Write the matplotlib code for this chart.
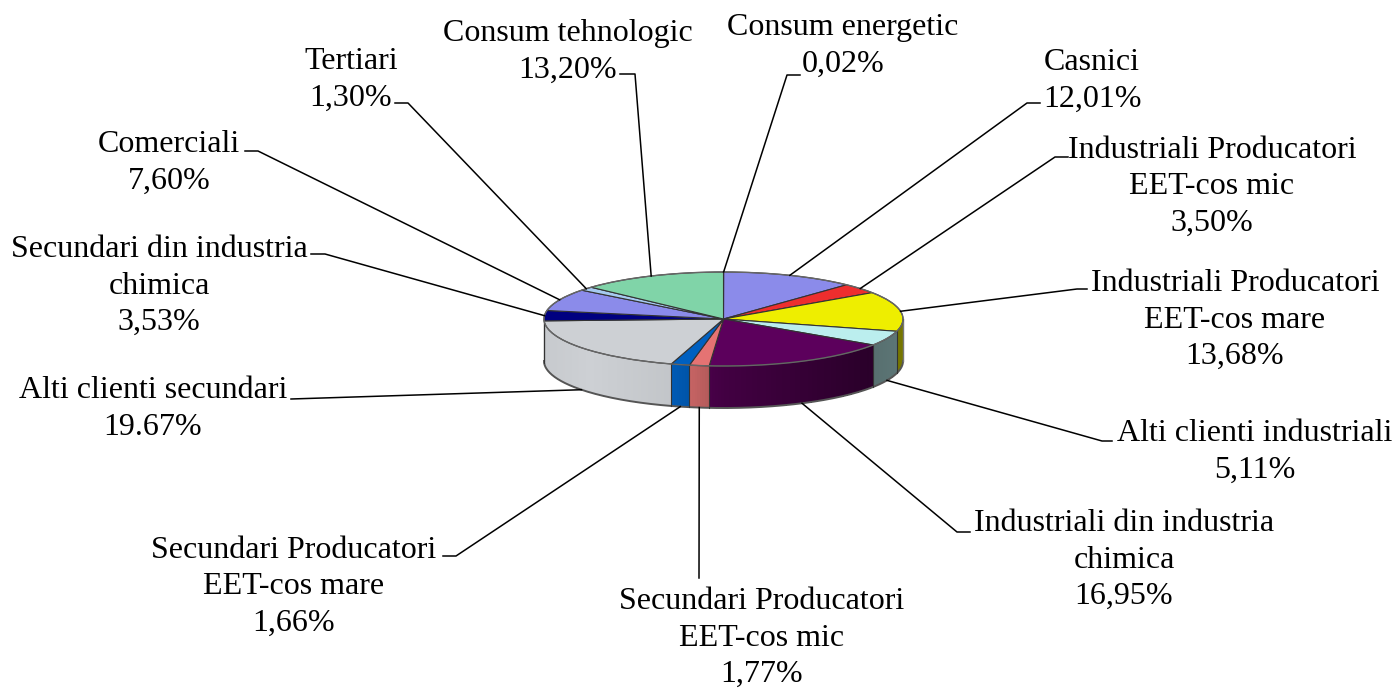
import numpy as np
import matplotlib
matplotlib.use("Agg")
import matplotlib.pyplot as plt
from matplotlib.collections import PolyCollection
from matplotlib.colors import to_rgb
from matplotlib.patches import Wedge
from matplotlib.transforms import Affine2D

# data, clockwise from the top of the pie
categories = ["Consum energetic", "Casnici", "Industriali Producatori\nEET-cos mic",
              "Industriali Producatori\nEET-cos mare", "Alti clienti industriali",
              "Industriali din industria\nchimica", "Secundari Producatori\nEET-cos mic",
              "Secundari Producatori\nEET-cos mare", "Alti clienti secundari",
              "Secundari din industria\nchimica", "Comerciali", "Tertiari", "Consum tehnologic"]
values = [0.02, 12.01, 3.50, 13.68, 5.11, 16.95, 1.77, 1.66, 19.67, 3.53, 7.60, 1.30, 13.20]
percent_labels = ["0,02%", "12,01%", "3,50%", "13,68%", "5,11%", "16,95%", "1,77%", "1,66%",
                  "19.67%", "3,53%", "7,60%", "1,30%", "13,20%"]
colors = ["#808000", "#8B8BEA", "#EE2E2E", "#EEEE00", "#BBEEEE", "#5C005C", "#E57373",
          "#0060C0", "#CDD0D4", "#000080", "#8B8BEA", "#A6CAF0", "#80D4A8"]

# label centres in pixels
label_x = [843, 1092, 1212, 1235, 1255, 1124, 762, 294, 153, 159, 169, 351, 568]
label_y = [46, 81, 187, 320, 452, 560, 638, 587, 409, 286, 163, 80, 52]

# where each leader leaves its label: (end next to the text, elbow)
leader_text_end = [(800, 75), (1040, 103), (1068, 157), (1087, 289), (1112, 441), (970, 532),
                   (699, 578), (443, 556), (291, 399), (311, 254), (245, 151), (395, 103), (620, 74)]
leader_elbow = [(787, 75), (1027, 103), (1055, 157), (1077, 289), (1102, 441), (957, 532),
                (699, 578), (456, 556), (291, 399), (325, 254), (258, 151), (408, 103), (635, 74)]

# pie geometry in pixels
cx, cy = 723.5, 319
rx, ry = 179.5, 47
depth = 42

plt.rcParams["font.family"] = ["Liberation Serif", "DejaVu Serif"]

fig = plt.figure(figsize=(13.96, 6.88), dpi=100)
ax = fig.add_axes([0, 0, 1, 1])
ax.set_xlim(0, 1396)
ax.set_ylim(688, 0)
ax.axis("off")

edges = np.concatenate([[0], np.cumsum(values)]) / np.sum(values)


def ellipse_point(frac):
    a = 2 * np.pi * frac
    return cx + rx * np.sin(a), cy - ry * np.cos(a)


def wall_shade(u):
    # brightness of the side wall
    return np.interp(u, [-1, -0.75, -0.3, -0.1, 0.0, 0.8, 1],
                     [0.97, 1.0, 0.95, 0.8, 0.72, 0.46, 0.5])


# side wall, only the front half (25% to 75%) is visible
polys, poly_colors = [], []
for i, col in enumerate(colors):
    lo, hi = max(edges[i], 0.25), min(edges[i + 1], 0.75)
    if hi <= lo:
        continue
    steps = np.linspace(lo, hi, max(2, int((hi - lo) * 400) + 2))
    base = np.array(to_rgb(col))
    for a, b in zip(steps[:-1], steps[1:]):
        xa, ya = ellipse_point(a)
        xb, yb = ellipse_point(b)
        polys.append([(xa, ya), (xb, yb), (xb, yb + depth), (xa, ya + depth)])
        shade = wall_shade((0.5 * (xa + xb) - cx) / rx)
        poly_colors.append(np.clip(base * shade, 0, 1))
ax.add_collection(PolyCollection(polys, facecolors=poly_colors, edgecolors="none",
                                 linewidths=0, antialiaseds=False, zorder=1))

# wall outline and slice separators
arc = np.linspace(0.25, 0.75, 200)
arc_x, arc_y = ellipse_point(arc)
ax.plot(arc_x, arc_y + depth, color="#555555", lw=1.4, zorder=2)
for frac in [0.25, 0.75]:
    x0, y0 = ellipse_point(frac)
    ax.plot([x0, x0], [y0, y0 + depth], color="#777777", lw=1, zorder=2)
for frac in edges[1:-1]:
    if 0.25 < frac < 0.75:
        x0, y0 = ellipse_point(frac)
        ax.plot([x0, x0], [y0, y0 + depth], color="#333333", lw=0.8, zorder=2)

# top face
squash = Affine2D().scale(rx, -ry).translate(cx, cy) + ax.transData
for i, col in enumerate(colors):
    ax.add_patch(Wedge((0, 0), 1, 90 - 360 * edges[i + 1], 90 - 360 * edges[i], facecolor=col,
                       edgecolor="#333333", linewidth=0.8, transform=squash, zorder=3))
rim = np.linspace(0, 1, 400)
rim_x, rim_y = ellipse_point(rim)
ax.plot(rim_x, rim_y, color="#666666", lw=1.0, zorder=4)

# leaders run to the middle of each slice's outer edge
mids = 0.5 * (edges[:-1] + edges[1:])
for i, mid in enumerate(mids):
    px, py = ellipse_point(mid)
    if 0.25 < mid < 0.75:
        py += depth
    xs = [leader_text_end[i][0], leader_elbow[i][0], px]
    ys = [leader_text_end[i][1], leader_elbow[i][1], py]
    ax.plot(xs, ys, color="black", lw=1.1, zorder=5)
    ax.text(label_x[i], label_y[i], categories[i] + "\n" + percent_labels[i], ha="center",
            va="center", ma="center", fontsize=23, linespacing=1.32, color="black", zorder=6)

fig.savefig("out.png", dpi=100)
